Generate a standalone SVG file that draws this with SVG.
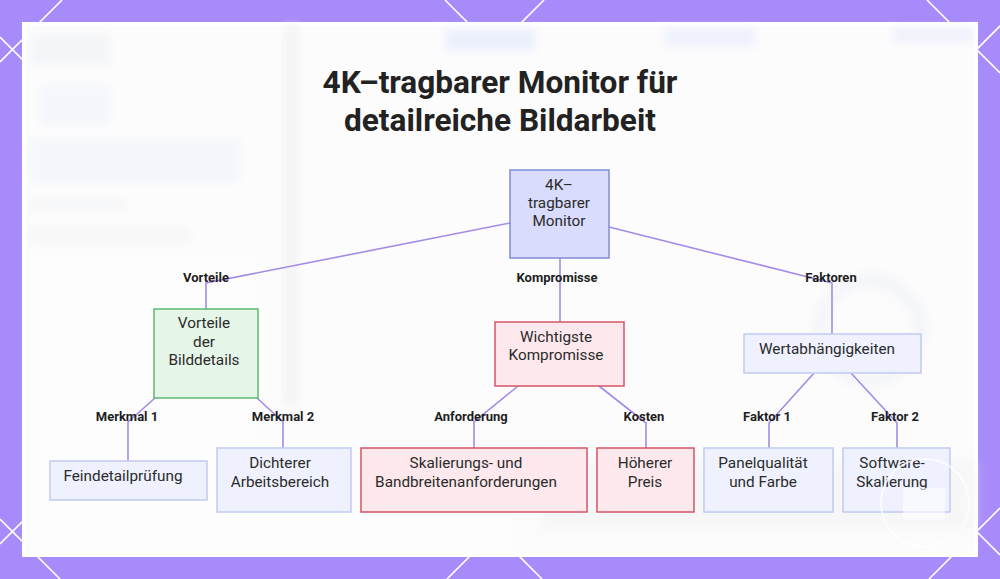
<svg xmlns="http://www.w3.org/2000/svg" width="1000" height="579" viewBox="0 0 1000 579">
<defs>
<style>
.lat{stroke:#ffffff;stroke-width:1.6;fill:none}
.edge{stroke:#a48be6;stroke-width:1.6;fill:none}
.nt{font-family:Roboto,"Liberation Sans",sans-serif;font-size:15.3px;fill:#2b2b2b;text-anchor:middle}
.el{font-family:Roboto,"Liberation Sans",sans-serif;font-size:13px;font-weight:bold;fill:#1e1e1e;text-anchor:middle}
.title{font-family:Roboto,"Liberation Sans",sans-serif;font-size:31.6px;font-weight:bold;fill:#222222;text-anchor:middle}
.root{fill:#d9dcfc;stroke:#7d8cd6;stroke-width:1.5}
.green{fill:#e6f6e9;stroke:#5cb872;stroke-width:1.5}
.red{fill:#fde9ed;stroke:#d35565;stroke-width:1.5}
.blue{fill:#eff2fe;stroke:#c1caf2;stroke-width:1.5}
</style>
<filter id="blur" x="-20%" y="-20%" width="140%" height="140%"><feGaussianBlur stdDeviation="6"/></filter>
<filter id="blur2" x="-50%" y="-50%" width="200%" height="200%"><feGaussianBlur stdDeviation="4"/></filter>
</defs>
<rect x="0" y="0" width="1000" height="579" fill="#a78bfa"/>
<g id="lattice">
<line class="lat" x1="62" y1="0" x2="0" y2="62"/>
<line class="lat" x1="544" y1="0" x2="0" y2="544"/>
<line class="lat" x1="1026" y1="0" x2="447" y2="579"/>
<line class="lat" x1="1000" y1="508" x2="929" y2="579"/>
<line class="lat" x1="0" y1="37" x2="542" y2="579"/>
<line class="lat" x1="0" y1="519" x2="60" y2="579"/>
<line class="lat" x1="445" y1="0" x2="1000" y2="555"/>
<line class="lat" x1="927" y1="0" x2="1000" y2="73"/>
</g>
<rect x="22" y="22" width="956" height="535" fill="#ffffff"/>
<g id="backdrop" opacity="0.6">
<rect x="26" y="26" width="948" height="527" fill="#fbfbfc"/>
<rect x="284" y="26" width="14" height="380" fill="#ececee" filter="url(#blur)"/>
<rect x="30" y="35" width="80" height="30" fill="#eef0f3" filter="url(#blur2)"/>
<rect x="40" y="85" width="70" height="40" fill="#eef2fb" filter="url(#blur2)"/>
<rect x="30" y="140" width="210" height="42" fill="#eef2fb" filter="url(#blur2)"/>
<rect x="30" y="200" width="95" height="10" fill="#f0f1f3" filter="url(#blur2)"/>
<rect x="30" y="228" width="160" height="14" fill="#f0f1f3" filter="url(#blur2)"/>
<rect x="445" y="30" width="90" height="20" fill="#dfe6fb" filter="url(#blur2)"/>
<rect x="665" y="28" width="90" height="18" fill="#e4e9fb" filter="url(#blur2)"/>
<rect x="893" y="28" width="80" height="14" fill="#e6eafb" filter="url(#blur2)"/>
<circle cx="870" cy="330" r="50" fill="none" stroke="#eef0f6" stroke-width="14" filter="url(#blur2)"/>
<rect x="540" y="460" width="435" height="70" fill="#f3f3f4" filter="url(#blur)"/>
</g>
<g id="title">
<text class="title" x="500" y="93">4K–tragbarer Monitor für</text>
<text class="title" x="500" y="131">detailreiche Bildarbeit</text>
</g>
<g id="connectors">
<polyline class="edge" points="510,223 206,283 206,309"/>
<polyline class="edge" points="560,258 560,322"/>
<polyline class="edge" points="609,227 832,283 832,334"/>
<polyline class="edge" points="155,398 128,422 128,461"/>
<polyline class="edge" points="257,398 283,422 283,448"/>
<polyline class="edge" points="518,386 474,422 474,448"/>
<polyline class="edge" points="599,386 646,423 646,448"/>
<polyline class="edge" points="814,373 769,423 769,448"/>
<polyline class="edge" points="851,373 897,423 897,448"/>
</g>
<g id="edge-labels">
<text class="el" x="206" y="282">Vorteile</text>
<text class="el" x="557" y="282">Kompromisse</text>
<text class="el" x="831" y="282">Faktoren</text>
<text class="el" x="127" y="421">Merkmal 1</text>
<text class="el" x="283" y="421">Merkmal 2</text>
<text class="el" x="471" y="421">Anforderung</text>
<text class="el" x="644" y="421">Kosten</text>
<text class="el" x="767" y="421">Faktor 1</text>
<text class="el" x="895" y="421">Faktor 2</text>
</g>
<g id="node-root">
<rect class="root" x="510" y="170" width="99" height="88"/>
<text class="nt" x="559" y="190">4K–</text>
<text class="nt" x="559" y="208">tragbarer</text>
<text class="nt" x="559" y="226">Monitor</text>
</g>
<g id="node-vorteile">
<rect class="green" x="154" y="309" width="104" height="89"/>
<text class="nt" x="204" y="328">Vorteile</text>
<text class="nt" x="204" y="347">der</text>
<text class="nt" x="204" y="365">Bilddetails</text>
</g>
<g id="node-kompromisse">
<rect class="red" x="495" y="322" width="129" height="64"/>
<text class="nt" x="556" y="342">Wichtigste</text>
<text class="nt" x="556" y="360">Kompromisse</text>
</g>
<g id="node-wert">
<rect class="blue" x="744" y="334" width="177" height="39"/>
<text class="nt" x="827" y="354">Wertabhängigkeiten</text>
</g>
<g id="node-fein">
<rect class="blue" x="50" y="461" width="157" height="39"/>
<text class="nt" x="123" y="481">Feindetailprüfung</text>
</g>
<g id="node-dichter">
<rect class="blue" x="217" y="448" width="134" height="64"/>
<text class="nt" x="280" y="468">Dichterer</text>
<text class="nt" x="280" y="487">Arbeitsbereich</text>
</g>
<g id="node-skal">
<rect class="red" x="361" y="448" width="226" height="64"/>
<text class="nt" x="466" y="468">Skalierungs- und</text>
<text class="nt" x="466" y="487">Bandbreitenanforderungen</text>
</g>
<g id="node-preis">
<rect class="red" x="597" y="448" width="97" height="64"/>
<text class="nt" x="645" y="468">Höherer</text>
<text class="nt" x="645" y="487">Preis</text>
</g>
<g id="node-panel">
<rect class="blue" x="704" y="448" width="129" height="64"/>
<text class="nt" x="763" y="468">Panelqualität</text>
<text class="nt" x="763" y="487">und Farbe</text>
</g>
<g id="node-software">
<rect class="blue" x="843" y="448" width="107" height="64"/>
<text class="nt" x="892" y="468">Software-</text>
<text class="nt" x="892" y="487">Skalierung</text>
</g>
<g id="watermark" opacity="0.85">
<circle cx="925" cy="503" r="44" fill="none" stroke="#ffffff" stroke-width="1.5"/>
<rect x="903" y="488" width="42" height="32" rx="3" fill="#ffffff" opacity="0.7"/>
</g>
</svg>
